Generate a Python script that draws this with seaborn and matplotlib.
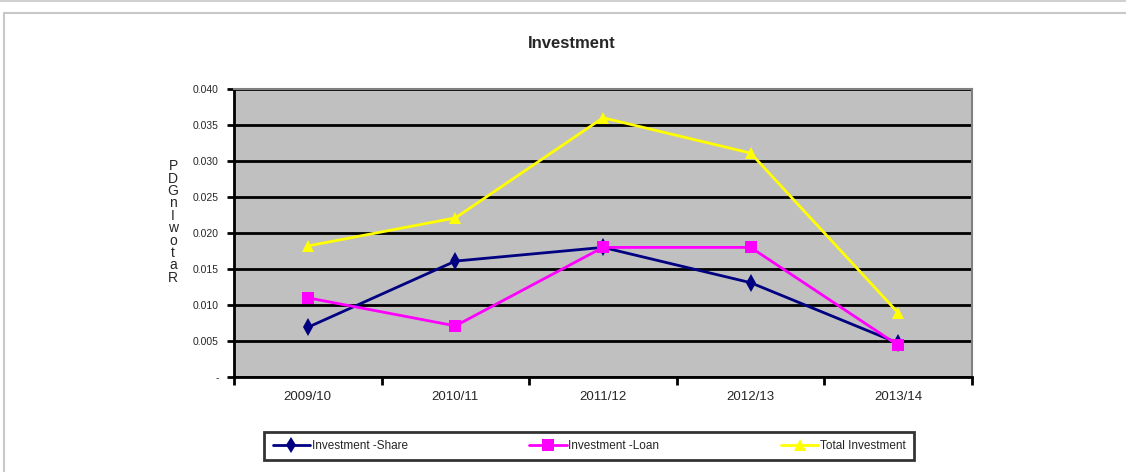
import matplotlib
matplotlib.use("Agg")
import matplotlib.pyplot as plt
from matplotlib.patches import Rectangle
from matplotlib.lines import Line2D
import seaborn as sns
import pandas as pd

years = ["2009/10", "2010/11", "2011/12", "2012/13", "2013/14"]
share = [0.0069, 0.0161, 0.0180, 0.0131, 0.0047]
loan = [0.0110, 0.0071, 0.0180, 0.0180, 0.0044]
total = [0.0182, 0.0221, 0.0360, 0.0311, 0.0089]
series_names = ["Investment -Share", "Investment -Loan", "Total Investment"]
yticks = [0, 0.005, 0.010, 0.015, 0.020, 0.025, 0.030, 0.035, 0.040]
ytick_labels = ["-", "0.005", "0.010", "0.015", "0.020", "0.025", "0.030", "0.035", "0.040"]

df = pd.DataFrame({"x": list(range(len(years))) * 3,
                   "value": share + loan + total,
                   "series": [n for n in series_names for _ in years]})

sns.set_style("white")
plt.rcParams["font.family"] = ["Liberation Sans", "DejaVu Sans"]

colors = {"Investment -Share": "#000080", "Investment -Loan": "#FF00FF", "Total Investment": "#FFFF00"}
markers = {"Investment -Share": "d", "Investment -Loan": "s", "Total Investment": "^"}

fig = plt.figure(figsize=(11.26, 4.72), dpi=100)
# outer frames (behind the axes)
fig.add_artist(Rectangle((0, 1 - 2 / 472), 1, 2 / 472, transform=fig.transFigure,
                         facecolor="#d0d0d0", edgecolor="none", zorder=-2))
fig.add_artist(Rectangle((4 / 1126, -0.05), 1.1, 1 - 13 / 472 + 0.05, transform=fig.transFigure,
                         facecolor="white", edgecolor="#c8c8c8", linewidth=1.5, zorder=-2))

ax = fig.add_axes([234 / 1126, 1 - 377 / 472, (972 - 234) / 1126, (377 - 89) / 472])
ax.set_facecolor("#C0C0C0")

sns.lineplot(data=df, x="x", y="value", hue="series", style="series",
             palette=colors, markers=markers, dashes=False, linewidth=2,
             markersize=9, markeredgewidth=0, legend=False, ax=ax)

ax.set_xlim(-0.5, 4.5)
ax.set_ylim(0, 0.04)
ax.set_yticks(yticks)
ax.set_yticklabels(ytick_labels, fontsize=7.5)
ax.yaxis.grid(True, color="black", linewidth=2)
ax.set_axisbelow(True)
ax.set_xticks(range(len(years)))
ax.set_xticklabels(years, fontsize=9.5)
ax.set_xticks([i - 0.5 for i in range(len(years) + 1)], minor=True)
ax.tick_params(axis="x", which="major", bottom=True, length=0, pad=10)
ax.tick_params(axis="x", which="minor", bottom=True, length=6, width=2, direction="out", color="black")
ax.tick_params(axis="y", left=True, length=5, width=2, direction="out", color="black", pad=6)
ax.set_xlabel("")
ax.set_ylabel("")
for side in ["left", "bottom"]:
    ax.spines[side].set_color("black")
    ax.spines[side].set_linewidth(2)
for side in ["top", "right"]:
    ax.spines[side].set_color("#808080")
    ax.spines[side].set_linewidth(1.5)

fig.text(572 / 1126, 1 - 44 / 472, "Investment", ha="center", va="center",
         fontsize=12, fontweight="bold")
fig.text(173 / 1126, 1 - 222 / 472, "P\nD\nG\nn\nI\nw\no\nt\na\nR", ha="center", va="center",
         fontsize=10, linespacing=0.85)

handles = [Line2D([0], [0], color=colors[n], marker=markers[n], linewidth=2,
                  markersize=8, markeredgewidth=0) for n in series_names]
leg = fig.legend(handles, series_names, loc="center", ncol=3,
                 bbox_to_anchor=(589 / 1126, 1 - 446 / 472), fontsize=8.5,
                 frameon=True, fancybox=False, edgecolor="black",
                 handlelength=3.2, columnspacing=10.3, borderpad=0.7, handletextpad=0.1)
leg.get_frame().set_linewidth(2)

fig.savefig("out.png", dpi=100)
